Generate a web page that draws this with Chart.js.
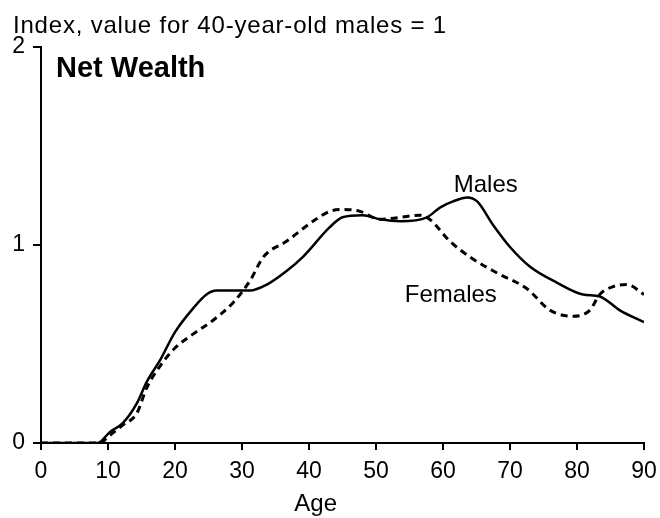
<!DOCTYPE html>
<html>
<head>
<meta charset="utf-8">
<script src="https://cdn.jsdelivr.net/npm/chart.js@4/dist/chart.umd.min.js"></script>
<style>
  body{margin:0;background:#fff;}
  #wrap{width:660px;height:518px;position:relative;}
</style>
</head>
<body>
<div id="wrap"><canvas id="chart1" width="660" height="518"></canvas></div>
<script>
// ages for each curve
const maleAge=[0,8.4,10.3,12.2,14.3,15.8,17.8,20,22.7,24.7,26.2,31.2,33.7,36.7,39.1,43.1,45,48,50.6,53.6,57.6,59.6,61.5,63.6,65.1,67.5,70,73,77,80.9,83.4,86.4,90];
const maleValue=[0,0,0.056,0.10,0.20,0.31,0.42,0.56,0.68,0.75,0.77,0.77,0.80,0.87,0.94,1.09,1.14,1.15,1.13,1.12,1.14,1.19,1.22,1.24,1.22,1.10,0.99,0.89,0.81,0.75,0.74,0.67,0.61];
const femaleAge=[0,9,9.8,12.2,14.3,15.8,17.8,20,22.7,25.7,28.7,31.2,33.2,36.7,40.6,43.1,45,47.6,50.6,56.6,58,61,64,68,72.5,76,79.4,81.9,83.4,85.4,87.5,90];
const femaleValue=[0,0,0.025,0.09,0.15,0.28,0.39,0.48,0.55,0.62,0.71,0.82,0.94,1.02,1.12,1.17,1.18,1.17,1.13,1.15,1.13,1.02,0.94,0.86,0.78,0.67,0.64,0.67,0.75,0.79,0.80,0.75];
const xTicks=[0,10,20,30,40,50,60,70,80,90];
const yTicks=[0,1,2];

const font='"Liberation Sans", Arial, Helvetica, sans-serif';

function toPoints(ages,values){
  return ages.map((a,i)=>({x:a,y:values[i]}));
}

// texts on the chart: title, panel name, series names, axis name
const textPlugin={
  id:'texts',
  afterDraw(chart){
    const ctx=chart.ctx;
    const xs=chart.scales.x;
    const ys=chart.scales.y;
    ctx.save();
    ctx.fillStyle='#000';
    ctx.textBaseline='alphabetic';
    ctx.textAlign='left';

    ctx.font='24px '+font;
    ctx.letterSpacing='0.8px';
    ctx.fillText('Index, value for 40-year-old males = 1',13,33);
    ctx.letterSpacing='0px';

    ctx.font='bold 29px '+font;
    ctx.fillText('Net Wealth',56,77);

    ctx.font='24px '+font;
    ctx.fillText('Males',xs.getPixelForValue(61.6),ys.getPixelForValue(1.27));
    ctx.fillText('Females',xs.getPixelForValue(54.3),ys.getPixelForValue(0.71));

    ctx.textAlign='center';
    ctx.fillText('Age',xs.getPixelForValue(41),511);
    ctx.restore();
  }
};

const ctx1=document.getElementById('chart1').getContext('2d');
const myChart1=new Chart(ctx1,{
  type:'line',
  data:{
    datasets:[{
      label:'Males',
      data:toPoints(maleAge,maleValue),
      borderColor:'#000',
      borderWidth:2.5,
      pointRadius:0,
      cubicInterpolationMode:'monotone'
    },{
      label:'Females',
      data:toPoints(femaleAge,femaleValue),
      borderColor:'#000',
      borderWidth:3,
      borderDash:[7,5],
      pointRadius:0,
      cubicInterpolationMode:'monotone'
    }]
  },
  options:{
    responsive:false,
    animation:false,
    devicePixelRatio:1,
    layout:{
      padding:{top:47,right:16,left:0,bottom:0}
    },
    plugins:{
      legend:{display:false},
      tooltip:{enabled:false}
    },
    scales:{
      x:{
        type:'linear',
        min:0,
        max:90,
        afterBuildTicks(scale){
          scale.ticks=xTicks.map(v=>({value:v}));
        },
        afterFit(scale){
          scale.height=75;
          scale.paddingLeft=0;
          scale.paddingRight=0;
        },
        grid:{drawOnChartArea:false,drawTicks:true,tickLength:7,color:'#000',lineWidth:2},
        border:{display:true,color:'#000',width:2},
        ticks:{color:'#000',font:{family:font,size:23},padding:8,maxRotation:0,autoSkip:false}
      },
      y:{
        min:0,
        max:2,
        afterBuildTicks(scale){
          scale.ticks=yTicks.map(v=>({value:v}));
        },
        afterFit(scale){
          scale.width=41;
          scale.paddingTop=0;
          scale.paddingBottom=0;
        },
        grid:{drawOnChartArea:false,drawTicks:true,tickLength:8,color:'#000',lineWidth:2},
        border:{display:true,color:'#000',width:2},
        ticks:{color:'#000',font:{family:font,size:23},padding:8,autoSkip:false}
      }
    }
  },
  plugins:[textPlugin]
});
</script>
</body>
</html>
